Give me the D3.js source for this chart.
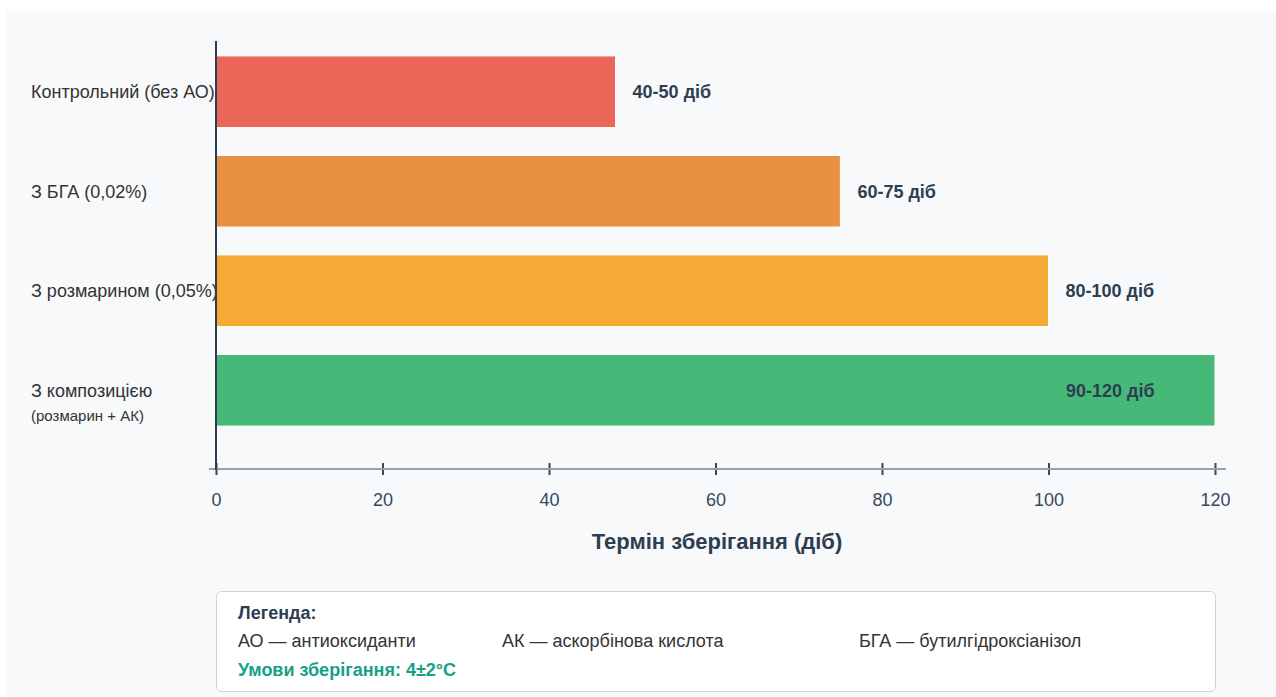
<!DOCTYPE html>
<html>
<head>
<meta charset="utf-8">
<script src="https://cdn.jsdelivr.net/npm/d3@7"></script>
<style>
  body { margin: 0; background: #ffffff; font-family: "Liberation Sans", Arial, sans-serif; }
  svg { display: block; }
</style>
</head>
<body>
<svg id="chart" width="1276" height="697"></svg>
<script>
// chart data
var categories = ["Контрольний (без АО)", "З БГА (0,02%)", "З розмарином (0,05%)", "З композицією"];
var subLabels = ["", "", "", "(розмарин + АК)"];
var shelfLife = [48, 75, 100, 120];
var rangeLabels = ["40-50 діб", "60-75 діб", "80-100 діб", "90-120 діб"];
var barColors = ["#e74c3c", "#e67e22", "#f39c12", "#27ae60"];
var xTicks = [0, 20, 40, 60, 80, 100, 120];
var legendItems = ["АО — антиоксиданти", "АК — аскорбінова кислота", "БГА — бутилгідроксіанізол"];

var svg = d3.select("#chart");

// light panel behind the chart
svg.append("rect")
	.attr("x", 6).attr("y", 11)
	.attr("width", 1276).attr("height", 700)
	.attr("fill", "#f8f9fa");

var x = d3.scaleLinear().domain([0, 120]).range([216, 1215]);
var y = d3.scaleBand().domain(categories).range([41, 441]).paddingInner(0.28).paddingOuter(0.15);

var data = categories.map(function(c, i) {
	return {cat: c, sub: subLabels[i], value: shelfLife[i], label: rangeLabels[i], color: barColors[i]};
});

// bars
svg.selectAll(".bar")
	.data(data)
	.enter().append("rect")
	.attr("class", "bar")
	.attr("x", x(0))
	.attr("y", function(d) { return y(d.cat); })
	.attr("width", function(d) { return x(d.value) - x(0); })
	.attr("height", y.bandwidth())
	.attr("fill", function(d) { return d.color; })
	.attr("fill-opacity", 0.85)
	.attr("stroke", "#ffffff")
	.attr("stroke-width", 1);

// value labels
svg.selectAll(".val")
	.data(data)
	.enter().append("text")
	.attr("class", "val")
	.attr("x", function(d) { return Math.min(x(d.value) + 17, x(120) - 149); })
	.attr("y", function(d) { return y(d.cat) + y.bandwidth() / 2; })
	.attr("dy", "0.35em")
	.attr("font-size", 18)
	.attr("font-weight", "bold")
	.attr("fill", "#2c3e50")
	.text(function(d) { return d.label; });

// category labels
var cat = svg.selectAll(".cat")
	.data(data)
	.enter().append("g")
	.attr("class", "cat");
cat.append("text")
	.attr("x", 31)
	.attr("y", function(d) { return y(d.cat) + y.bandwidth() / 2; })
	.attr("dy", "0.35em")
	.attr("font-size", 18)
	.attr("fill", "#333")
	.text(function(d) { return d.cat; });
cat.filter(function(d) { return d.sub; }).append("text")
	.attr("x", 31)
	.attr("y", function(d) { return y(d.cat) + y.bandwidth() / 2 + 25; })
	.attr("dy", "0.35em")
	.attr("font-size", 15)
	.attr("fill", "#333")
	.text(function(d) { return d.sub; });

// x axis
var xAxis = svg.append("g")
	.attr("transform", "translate(0,469)")
	.call(d3.axisBottom(x).tickValues(xTicks).tickSize(0).tickPadding(24));
xAxis.select(".domain").remove();
xAxis.append("line")
	.attr("x1", 209).attr("x2", 1226)
	.attr("stroke", "#95a5a6").attr("stroke-width", 2);
xAxis.selectAll(".tick").append("line")
	.attr("y1", -6).attr("y2", 6)
	.attr("stroke", "#34495e").attr("stroke-width", 2);
xAxis.selectAll(".tick text")
	.attr("font-size", 18)
	.attr("font-family", "Liberation Sans, Arial, sans-serif")
	.attr("fill", "#34495e");

// y axis line
svg.append("line")
	.attr("x1", x(0)).attr("x2", x(0))
	.attr("y1", 41).attr("y2", 470)
	.attr("stroke", "#2c3e50").attr("stroke-width", 2);

// axis title
svg.append("text")
	.attr("x", 717).attr("y", 541)
	.attr("dy", "0.35em")
	.attr("text-anchor", "middle")
	.attr("font-size", 22)
	.attr("font-weight", "bold")
	.attr("fill", "#2c3e50")
	.text("Термін зберігання (діб)");

// legend box
var lg = svg.append("g");
lg.append("rect")
	.attr("x", 216.5).attr("y", 591.5)
	.attr("width", 999).attr("height", 100)
	.attr("rx", 5)
	.attr("fill", "#ffffff")
	.attr("stroke", "#cfd4d8");
lg.append("text")
	.attr("x", 238).attr("y", 613).attr("dy", "0.35em")
	.attr("font-size", 18).attr("font-weight", "bold").attr("fill", "#2c3e50")
	.text("Легенда:");
var legendX = [238, 502, 859];
lg.selectAll(".item")
	.data(legendItems)
	.enter().append("text")
	.attr("x", function(d, i) { return legendX[i]; })
	.attr("y", 641).attr("dy", "0.35em")
	.attr("font-size", 18).attr("fill", "#333")
	.text(function(d) { return d; });
lg.append("text")
	.attr("x", 238).attr("y", 670).attr("dy", "0.35em")
	.attr("font-size", 18).attr("font-weight", "bold").attr("fill", "#16a085")
	.text("Умови зберігання: 4±2°C");
</script>
</body>
</html>
